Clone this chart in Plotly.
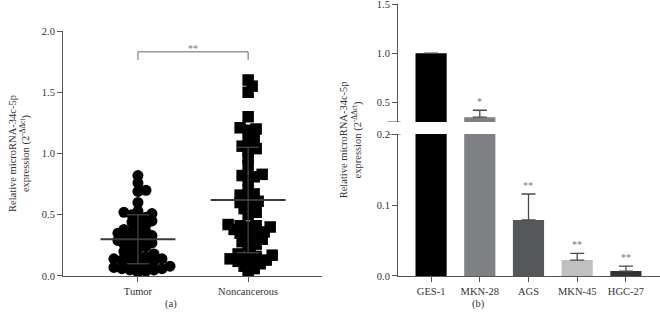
import plotly.graph_objects as go

# ---------------- data ----------------
groups = ["Tumor", "Noncancerous"]
tumor = [0.82, 0.76, 0.70, 0.69, 0.60, 0.53, 0.52, 0.51, 0.50, 0.48,
         0.47, 0.45, 0.44, 0.42, 0.40, 0.38, 0.37, 0.36, 0.35, 0.34,
         0.33, 0.32, 0.31, 0.30, 0.29, 0.28, 0.27, 0.26, 0.25, 0.24,
         0.22, 0.20, 0.18, 0.17, 0.16, 0.15, 0.14, 0.14, 0.13, 0.12,
         0.11, 0.10, 0.09, 0.08, 0.07, 0.06, 0.06, 0.05, 0.05, 0.04, 0.03]
noncancerous = [1.60, 1.55, 1.50, 1.30, 1.21, 1.20, 1.19, 1.13, 1.10, 1.06,
                1.04, 1.02, 0.96, 0.90, 0.83, 0.82, 0.81, 0.78, 0.70, 0.67,
                0.66, 0.64, 0.61, 0.60, 0.57, 0.55, 0.52, 0.50, 0.42, 0.41,
                0.41, 0.40, 0.40, 0.38, 0.36, 0.35, 0.35, 0.33, 0.30, 0.28,
                0.26, 0.25, 0.19, 0.18, 0.17, 0.16, 0.15, 0.14, 0.13, 0.12,
                0.12, 0.10, 0.08, 0.06, 0.03]
group_mean = [0.30, 0.62]
group_sd = [0.20, 0.43]
sig_a = "**"

cells = ["GES-1", "MKN-28", "AGS", "MKN-45", "HGC-27"]
cell_vals = [1.0, 0.35, 0.079, 0.0225, 0.007]
cell_err = [0.0, 0.07, 0.0365, 0.0095, 0.007]
cell_sig = ["", "*", "**", "**", "**"]
cell_colors = ["#000000", "#7e8083", "#55585b", "#bfc0c2", "#333336"]
axis_break = 0.3

FONT = "Liberation Serif"
AX = "#555555"
TXT = "#333333"

# pixel scales for swarm layout (left panel)
YPX = 122.5
XPX = 110.0


def swarm(vals, d=6.5, step=2.0):
    placed = []
    offs = [0.0] * len(vals)
    order = sorted(range(len(vals)), key=lambda i: vals[i])
    for i in order:
        y = vals[i] * YPX
        k = 0
        while True:
            cands = [0.0] if k == 0 else [k * step, -k * step]
            ok = None
            for c in cands:
                if all((c - px) ** 2 + (y - py) ** 2 >= d * d for px, py in placed):
                    ok = c
                    break
            if ok is not None:
                placed.append((ok, y))
                offs[i] = ok / XPX
                break
            k += 1
    return offs


fig = go.Figure()

series = [tumor, noncancerous]
symbols = ["circle", "square"]
for gi, vals in enumerate(series):
    offs = swarm(vals)
    fig.add_trace(go.Scatter(
        x=[gi + o for o in offs], y=vals, mode="markers",
        marker=dict(symbol=symbols[gi], size=11 if gi == 0 else 11.5,
                    color="#000000", line=dict(width=0)),
        xaxis="x", yaxis="y", showlegend=False, hoverinfo="y"))

shapes = []
for gi in range(2):
    m, s = group_mean[gi], group_sd[gi]
    shapes.append(dict(type="line", xref="x", yref="y", x0=gi - 0.34, x1=gi + 0.34,
                       y0=m, y1=m, line=dict(color="#3a3a3a", width=2)))
    shapes.append(dict(type="line", xref="x", yref="y", x0=gi, x1=gi,
                       y0=m - s, y1=m + s, line=dict(color="#444444", width=1.3)))
    for yy in (m - s, m + s):
        shapes.append(dict(type="line", xref="x", yref="y", x0=gi - 0.1, x1=gi + 0.1,
                           y0=yy, y1=yy, line=dict(color="#444444", width=1.3)))

# significance bracket
shapes.append(dict(type="path", xref="x", yref="y",
                   path="M 0,1.765 L 0,1.83 L 1,1.83 L 1,1.765",
                   line=dict(color="#666666", width=1)))

# axis-break tick marks on the right panel
shapes.append(dict(type="line", xref="x2 domain", yref="y4", x0=-0.04, x1=0.01,
                   y0=axis_break, y1=axis_break, line=dict(color=AX, width=1.2)))
shapes.append(dict(type="line", xref="x2 domain", yref="y3", x0=-0.04, x1=0.01,
                   y0=0.2, y1=0.2, line=dict(color=AX, width=1.2)))

# right panel bars (lower and upper segments of the broken axis)
for ya in ("y3", "y4"):
    fig.add_trace(go.Bar(
        x=list(range(len(cells))), y=cell_vals, width=0.64,
        marker=dict(color=cell_colors, line=dict(width=0)),
        error_y=dict(type="data", array=cell_err, arrayminus=[0] * len(cells),
                     symmetric=False, color="#4a4a4a", thickness=1.3, width=7),
        xaxis="x2", yaxis=ya, showlegend=False))

annotations = [
    dict(text=sig_a, x=0.5, y=1.83, xref="x", yref="y", showarrow=False,
         yanchor="bottom", yshift=-4, font=dict(family=FONT, size=10, color="#777777")),
    dict(text="Relative microRNA-34c-5p<br>expression (2<sup>-ΔΔct</sup>)",
         x=-0.073, y=0.45, xref="paper", yref="paper", textangle=-90,
         showarrow=False, xanchor="center", yanchor="middle",
         font=dict(family=FONT, size=10.5, color=TXT)),
    dict(text="Relative microRNA-34c-5p<br>expression (2<sup>-ΔΔct</sup>)",
         x=0.483, y=0.5, xref="paper", yref="paper", textangle=-90,
         showarrow=False, xanchor="center", yanchor="middle",
         font=dict(family=FONT, size=10.5, color=TXT)),
    dict(text="(a)", x=0.1675, y=-0.132, xref="paper", yref="paper",
         showarrow=False, font=dict(family=FONT, size=10.5, color=TXT)),
    dict(text="(b)", x=0.71, y=-0.132, xref="paper", yref="paper",
         showarrow=False, font=dict(family=FONT, size=10.5, color=TXT)),
]
for i, s in enumerate(cell_sig):
    if not s:
        continue
    top = cell_vals[i] + cell_err[i]
    ya = "y4" if top > 0.2 else "y3"
    annotations.append(dict(text=s, x=i, y=top, xref="x2", yref=ya, showarrow=False,
                            yanchor="bottom", yshift=1,
                            font=dict(family=FONT, size=10, color="#777777")))

tickfont = dict(family=FONT, size=10.5, color=TXT)
common_y = dict(showline=True, linecolor=AX, linewidth=1, ticks="outside", ticklen=5,
                tickcolor=AX, showgrid=False, zeroline=False, tickfont=tickfont,
                tickformat=".1f", automargin=False, ticklabeloverflow="allow")
common_x = dict(showline=True, linecolor=AX, linewidth=1, ticks="outside", ticklen=5,
                tickcolor=AX, showgrid=False, zeroline=False, tickfont=tickfont,
                automargin=False)

fig.update_layout(
    width=660, height=317,
    margin=dict(l=63, r=0, t=4, b=41),
    paper_bgcolor="white", plot_bgcolor="white",
    xaxis=dict(domain=[0, 0.4338], range=[-0.68, 1.67], tickvals=[0, 1],
               ticktext=groups, anchor="y", **common_x),
    yaxis=dict(domain=[0, 0.9007], range=[0, 2.0], tickvals=[0, 0.5, 1.0, 1.5, 2.0],
               anchor="x", **common_y),
    xaxis2=dict(domain=[0.5611, 1], range=[-0.68, 4.70], tickvals=list(range(len(cells))),
                ticktext=cells, anchor="y3", **common_x),
    yaxis3=dict(domain=[0, 0.522], range=[0, 0.2], tickvals=[0, 0.1, 0.2],
                anchor="x2", **common_y),
    yaxis4=dict(domain=[0.566, 1], range=[axis_break, 1.5], tickvals=[0.5, 1.0, 1.5],
                anchor="x2", **common_y),
    shapes=shapes, annotations=annotations, bargap=0.2,
)

fig.write_html("out.html", config={"displayModeBar": False},
               post_script="document.body.style.margin='0';document.body.style.padding='0';")
